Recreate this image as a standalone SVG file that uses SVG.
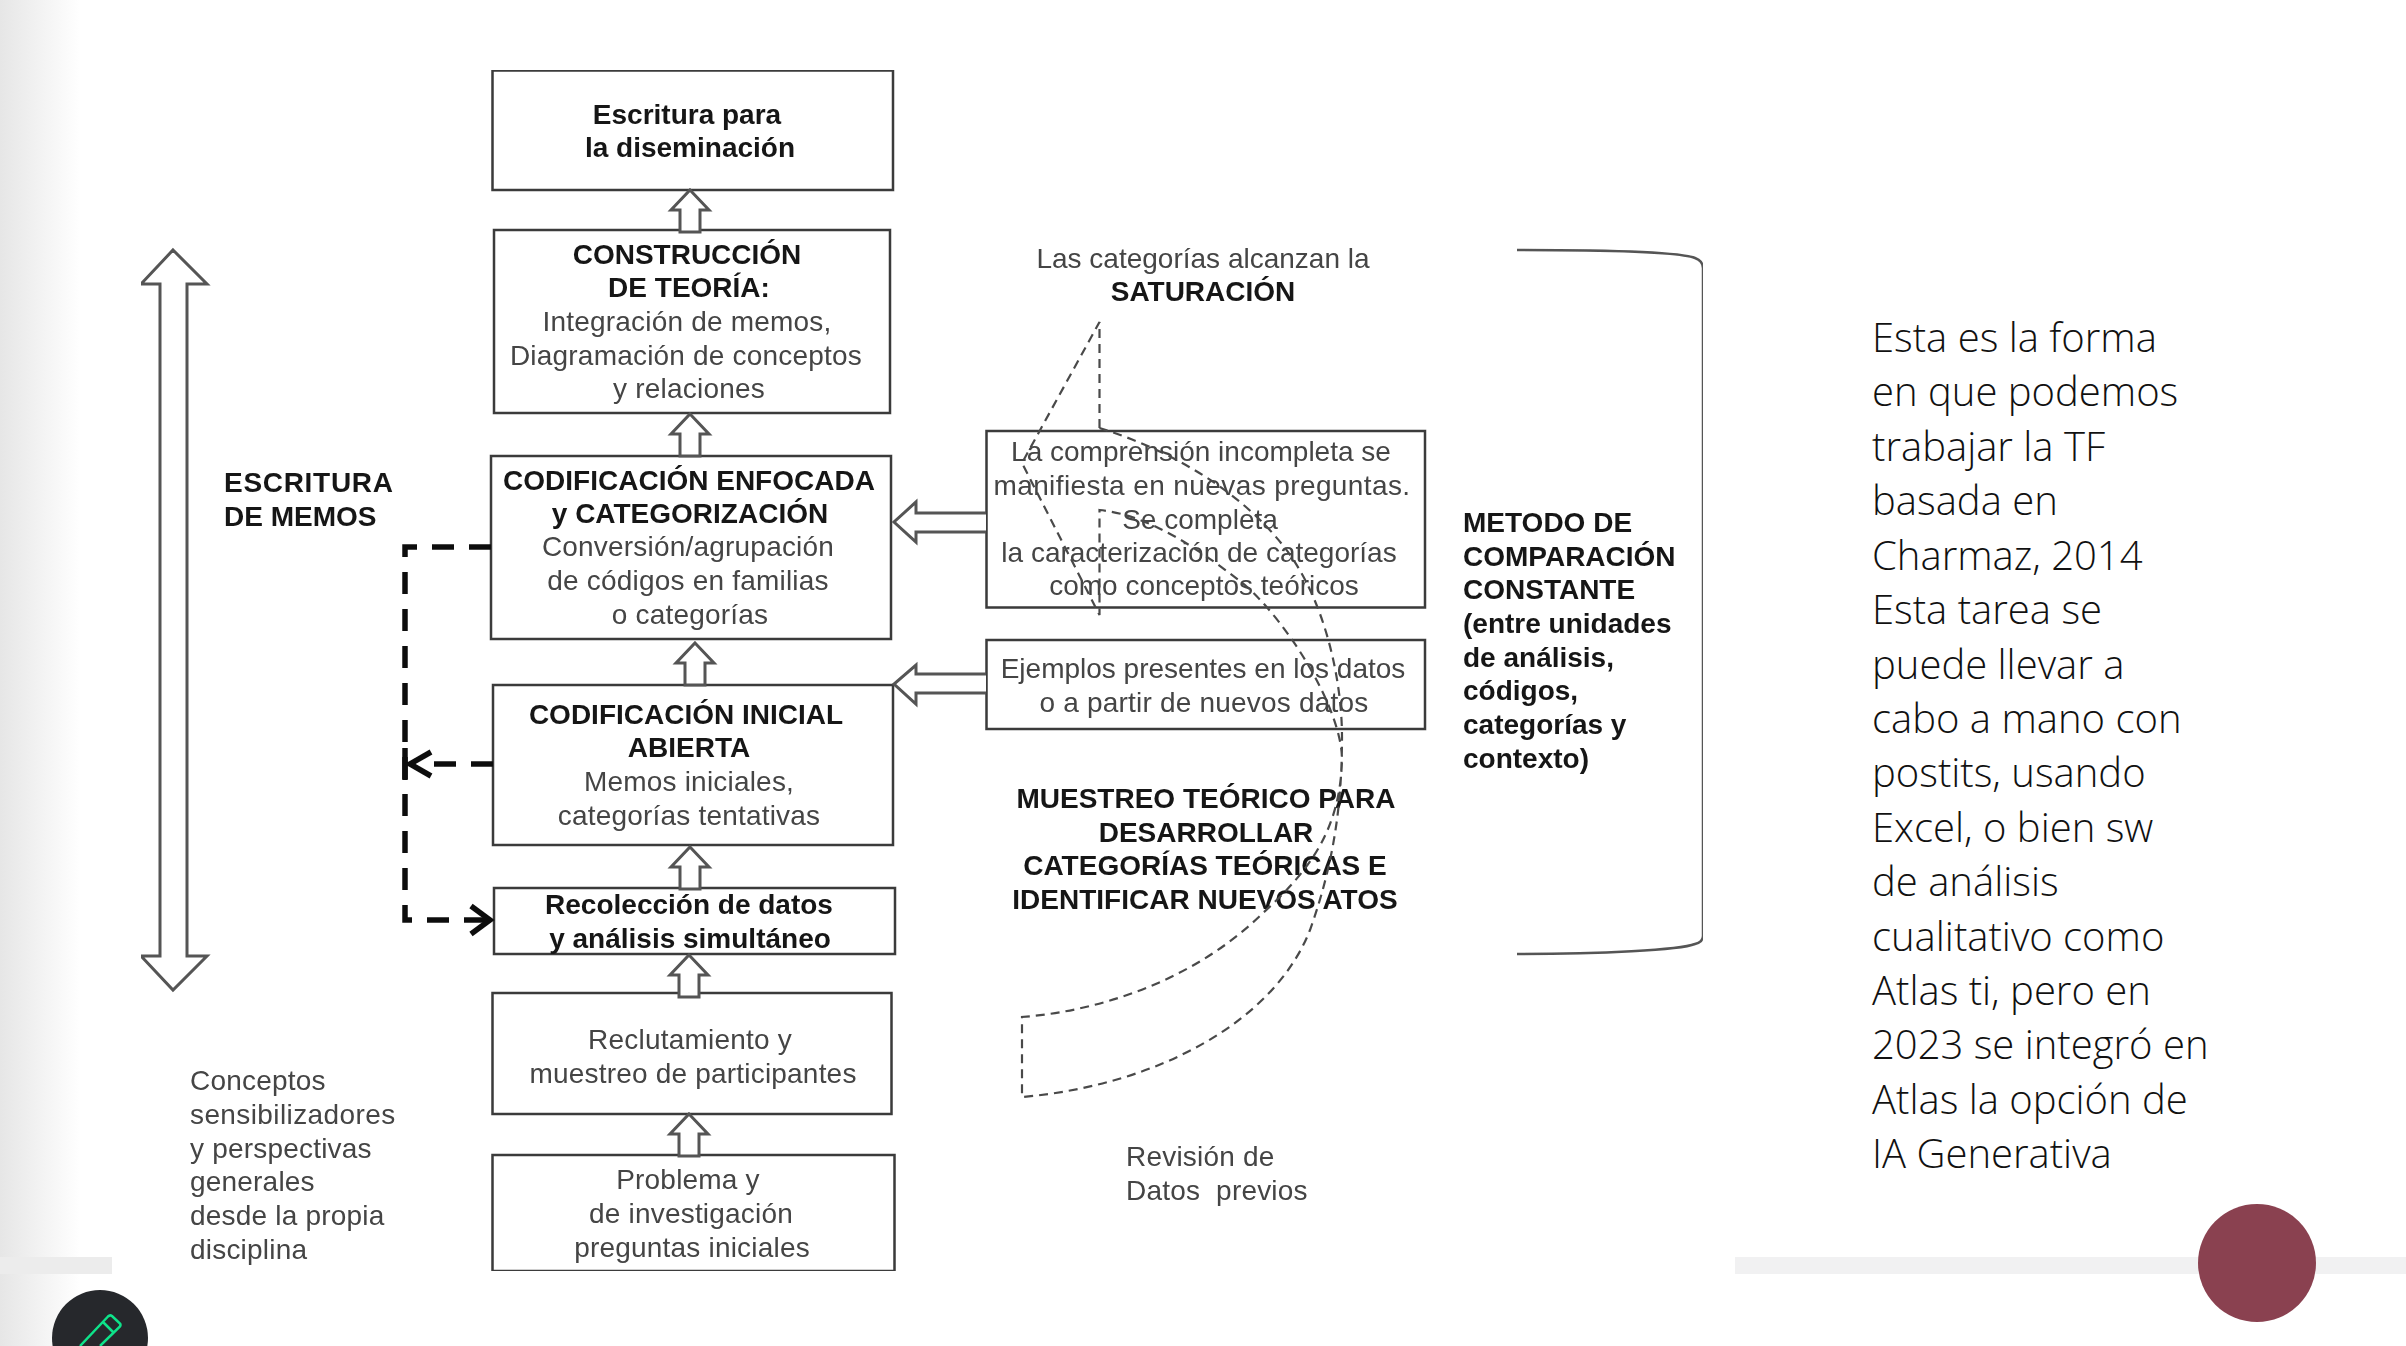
<svg xmlns="http://www.w3.org/2000/svg" width="2406" height="1346" viewBox="0 0 2406 1346">
<style>
text{font-family:"Liberation Sans",Arial,sans-serif;font-size:28px;fill:#444;text-anchor:middle;letter-spacing:.2px}
.b{font-weight:bold;fill:#151515;letter-spacing:0}
.l{text-anchor:start}
.t{letter-spacing:0}
.box{fill:#fff;stroke:#3a3a3a;stroke-width:2.5}
.blk{fill:#fff;stroke:#555;stroke-width:3}
.dash{fill:none;stroke:#111;stroke-width:5.5;stroke-dasharray:22 15}
.head{fill:none;stroke:#111;stroke-width:5.5}
.thin{fill:none;stroke:#4a4a4a;stroke-width:2.2;stroke-dasharray:9 6}
.para{font-family:"Open Sans",sans-serif;font-size:40px;font-weight:300;fill:#111;text-anchor:start;letter-spacing:0}
</style>
<defs>
<linearGradient id="edge" x1="0" x2="1" y1="0" y2="0"><stop offset="0" stop-color="#e6e6e6"/><stop offset="1" stop-color="#fff"/></linearGradient>
<filter id="soft" x="0" y="0" width="100%" height="100%"><feGaussianBlur stdDeviation="0.5"/></filter>
<path id="up" class="blk" d="M0 0L19 20H10V42H-10V20H-19Z"/>
</defs>
<rect width="2406" height="1346" fill="#fff"/>
<rect width="80" height="1346" fill="url(#edge)"/>
<rect y="1257" width="112" height="17" fill="#ececec"/>
<rect x="1735" y="1257" width="671" height="17" fill="#f1f1f2"/>

<g id="figure" filter="url(#soft)">
<g id="n-diseminacion"><rect class="box" x="492.500" y="70.500" width="400.500" height="119.500"/>
<text class="b" x="687" y="123.500">Escritura para</text><text class="b" x="690" y="157">la diseminación</text></g>
<g id="n-teoria"><rect class="box" x="494" y="230" width="396" height="183"/>
<text class="b" x="687" y="263.500">CONSTRUCCIÓN</text><text class="b" x="689" y="297">DE TEORÍA:</text>
<text x="687" y="331">Integración de memos,</text><text x="686" y="364.500">Diagramación de conceptos</text><text x="689" y="398">y relaciones</text></g>
<g id="n-enfocada"><rect class="box" x="491" y="456" width="400" height="183"/>
<text class="b" x="689" y="489.500">CODIFICACIÓN ENFOCADA</text><text class="b" x="690" y="522.500">y CATEGORIZACIÓN</text>
<text x="688" y="556">Conversión/agrupación</text><text x="688" y="590">de códigos en familias</text><text x="690" y="624">o categorías</text></g>
<g id="n-inicial"><rect class="box" x="493" y="685" width="400" height="160"/>
<text class="b" x="686" y="723.500">CODIFICACIÓN INICIAL</text><text class="b" x="689" y="757">ABIERTA</text>
<text x="689" y="791">Memos iniciales,</text><text x="689" y="825">categorías tentativas</text></g>
<g id="n-recoleccion"><rect class="box" x="494" y="888" width="401" height="66"/>
<text class="b" x="689" y="914">Recolección de datos</text><text class="b" x="690" y="947.500">y análisis simultáneo</text></g>
<g id="n-reclutamiento"><rect class="box" x="492.500" y="993" width="399" height="121"/>
<text x="690" y="1048.600">Reclutamiento y</text><text x="693" y="1082.500">muestreo de participantes</text></g>
<g id="n-problema"><rect class="box" x="492.500" y="1155" width="402" height="116"/>
<text x="688" y="1189">Problema y</text><text x="691" y="1223">de investigación</text><text x="692" y="1257">preguntas iniciales</text></g>

<g id="n-comprension"><rect class="box" x="986.500" y="431" width="438.500" height="176.500"/>
<text class="t" x="1201" y="461">La comprensión incompleta se</text><text x="1202" y="495" style="letter-spacing:.4px">manifiesta en nuevas preguntas.</text><text class="t" x="1200" y="528.600">Se completa</text><text class="t" x="1199" y="562">la caracterización de categorías</text><text class="t" x="1204" y="595">como conceptos teóricos</text></g>
<g id="n-ejemplos"><rect class="box" x="986.500" y="640" width="438.500" height="89"/>
<text class="t" x="1203" y="677.500">Ejemplos presentes en los datos</text><text x="1204" y="711.500">o a partir de nuevos datos</text></g>

<g id="n-saturacion"><text class="t" x="1203" y="268">Las categorías alcanzan la</text><text class="b" x="1203" y="301">SATURACIÓN</text></g>
<g id="n-muestreo"><text class="b" x="1206" y="808">MUESTREO TEÓRICO PARA</text><text class="b" x="1206" y="841.600">DESARROLLAR</text><text class="b" x="1205" y="875">CATEGORÍAS TEÓRICAS E</text><text class="b" x="1205" y="909">IDENTIFICAR NUEVOS ATOS</text></g>
<g id="n-metodo"><text class="b l" x="1463" y="531.700">METODO DE</text><text class="b l" x="1463" y="565.500">COMPARACIÓN</text><text class="b l" x="1463" y="599">CONSTANTE</text><text class="b l" x="1463" y="633">(entre unidades</text><text class="b l" x="1463" y="667">de análisis,</text><text class="b l" x="1463" y="700">códigos,</text><text class="b l" x="1463" y="734">categorías y</text><text class="b l" x="1463" y="768">contexto)</text></g>
<g id="n-memos"><text class="b l" x="224" y="492" style="letter-spacing:.7px">ESCRITURA</text><text class="b l" x="224" y="525.500">DE MEMOS</text></g>
<g id="n-conceptos"><text class="l" x="190" y="1090">Conceptos</text><text class="l" x="190" y="1124" style="letter-spacing:.4px">sensibilizadores</text><text class="l" x="190" y="1158">y perspectivas</text><text class="l" x="190" y="1191">generales</text><text class="l" x="190" y="1225">desde la propia</text><text class="l" x="190" y="1259">disciplina</text></g>
<g id="n-revision"><text class="l" x="1126" y="1165.500">Revisión de</text><text class="l" x="1126" y="1199.500" xml:space="preserve">Datos  previos</text></g>

<g id="connectors">
<path class="blk" d="M173 250L207 284H187V956H207L173 990L141 956H160V284H141Z"/>
<use href="#up" x="690" y="190"/>
<use href="#up" x="690" y="414"/>
<use href="#up" x="695" y="643"/>
<use href="#up" x="690" y="847"/>
<use href="#up" x="689" y="955"/>
<use href="#up" x="689" y="1114"/>
<path class="blk" d="M986 513H916V502L894 522L916 542V532H986"/>
<path class="blk" d="M986 674H916V665L894 684L916 704V693H986"/>
<path class="dash" d="M491 547H405V920H490"/>
<path class="dash" d="M493 764H420"/>
<path class="head" d="M431 752L410 764L431 776M405 748V780"/>
<path class="head" d="M471 906L490 920L471 934"/>
<path class="thin" d="M1099.500 428V322L1022 463L1099.500 615V510C1150 515 1200 550 1245 585C1290 625 1342 710 1342 760C1340 830 1310 870 1263 913C1200 975 1110 1010 1022 1017V1097C1160 1085 1275 1020 1310 930C1335 860 1342 800 1342 737C1342 680 1325 600 1285 548C1240 490 1170 450 1099.500 428"/>
<path d="M1517 250C1600 250 1680 252 1695 258Q1703 261 1703 268V936Q1703 942 1695 944C1680 950 1600 954 1517 954" fill="none" stroke="#555" stroke-width="2.5"/>
</g>
</g>

<g id="n-parrafo">
<text class="para" x="1872" y="352">Esta es la forma</text><text class="para" x="1872" y="406">en que podemos</text><text class="para" x="1872" y="461">trabajar la TF</text><text class="para" x="1872" y="515">basada en</text><text class="para" x="1872" y="570">Charmaz, 2014</text><text class="para" x="1872" y="624">Esta tarea se</text><text class="para" x="1872" y="679">puede llevar a</text><text class="para" x="1872" y="733">cabo a mano con</text><text class="para" x="1872" y="787">postits, usando</text><text class="para" x="1872" y="842">Excel, o bien sw</text><text class="para" x="1872" y="896">de análisis</text><text class="para" x="1872" y="951">cualitativo como</text><text class="para" x="1872" y="1005">Atlas ti, pero en</text><text class="para" x="1872" y="1059">2023 se integró en</text><text class="para" x="1872" y="1114">Atlas la opción de</text><text class="para" x="1872" y="1168">IA Generativa</text>
</g>
<g id="n-circulo"><circle cx="2257" cy="1263" r="59" fill="#8a4150"/></g>
<g id="n-lapiz"><circle cx="100" cy="1338" r="48" fill="#26282c"/>
<path d="M80 1346L108 1316.500Q110 1314.500 112 1316L120 1323.500Q121 1325 120 1326.500L100 1346M103 1322L113 1332" fill="none" stroke="#0ee38a" stroke-width="2.500"/></g>
</svg>
